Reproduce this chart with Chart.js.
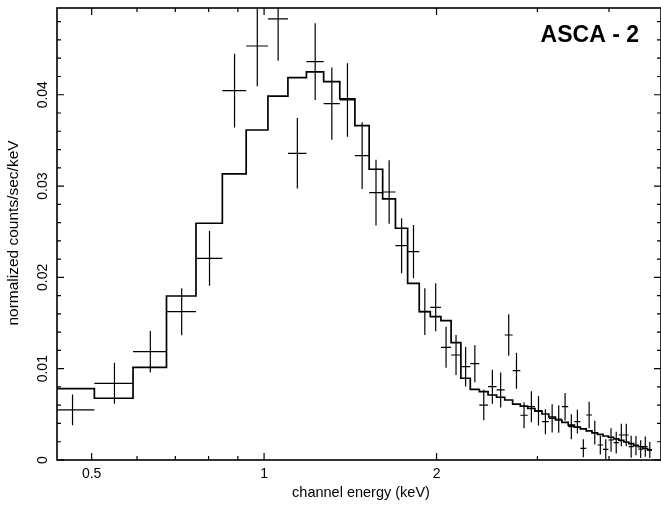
<!DOCTYPE html>
<html>
<head>
<meta charset="utf-8">
<script src="https://cdn.jsdelivr.net/npm/chart.js@4.4.0/dist/chart.umd.min.js"></script>
<style>
  html, body { margin: 0; padding: 0; background: #fff; }
</style>
</head>
<body>
<canvas id="spectrum" width="661" height="508"></canvas>
<script>
// bin centres in keV (every bin is 0.085 keV wide)
const energies = [
  0.463, 0.548, 0.633, 0.718, 0.803, 0.888, 0.973, 1.058, 1.143, 1.228,
  1.313, 1.398, 1.483, 1.568, 1.653, 1.738, 1.823, 1.908, 1.993, 2.078,
  2.163, 2.248, 2.333, 2.418, 2.503, 2.588, 2.673, 2.758, 2.843, 2.928,
  3.013, 3.098, 3.183, 3.268, 3.353, 3.438, 3.523, 3.608, 3.693, 3.778,
  3.863, 3.948, 4.033, 4.118, 4.203, 4.288, 4.373, 4.458, 4.543, 4.628, 4.713
];
const binHalfWidth = 0.0425;

// measured spectrum (counts/sec/keV) and 1-sigma errors
const counts = [
  0.00548, 0.0084, 0.01186, 0.01624, 0.02209, 0.04045, 0.04534, 0.0483, 0.03359, 0.04363,
  0.03903, 0.03943, 0.03333, 0.02928, 0.02935, 0.02347, 0.02282, 0.01625, 0.01672, 0.01234,
  0.0115, 0.01022, 0.01055, 0.00602, 0.00803, 0.00767, 0.01369, 0.00978, 0.0049, 0.00584,
  0.0054, 0.0042, 0.00456, 0.00449, 0.00584, 0.00365, 0.0042, 0.00128, 0.00493, 0.003,
  0.00164, 0.00117, 0.00219, 0.0019, 0.00274, 0.00274, 0.00146, 0.00157, 0.0012, 0.00146, 0.0011
];
const countErrors = [
  0.00168, 0.00225, 0.00228, 0.00257, 0.00301, 0.00405, 0.0044, 0.00457, 0.00387, 0.0042,
  0.00396, 0.00402, 0.00365, 0.00361, 0.00347, 0.00301, 0.00292, 0.00257, 0.00263, 0.00225,
  0.00219, 0.00216, 0.00203, 0.00168, 0.00186, 0.00192, 0.00227, 0.00197, 0.00142, 0.0017,
  0.00161, 0.00137, 0.00155, 0.0015, 0.00151, 0.00137, 0.00131, 0.00099, 0.00146, 0.00131,
  0.00104, 0.0011, 0.00128, 0.00119, 0.00124, 0.00124, 0.0012, 0.00106, 0.00097, 0.0011, 0.00088
];

// folded model, one level per bin
const model = [
  0.00781, 0.00676, 0.01015, 0.01796, 0.02593, 0.03133, 0.03614, 0.03984, 0.04187, 0.0425,
  0.04143, 0.03954, 0.03662, 0.03184, 0.02859, 0.02538, 0.01935, 0.01624, 0.0157, 0.01526,
  0.01285, 0.00895, 0.00774, 0.00748, 0.00712, 0.00687, 0.00657, 0.00613, 0.00591, 0.00564,
  0.00535, 0.00504, 0.00471, 0.00438, 0.00411, 0.00383, 0.00361, 0.0034, 0.00318, 0.00298,
  0.0028, 0.00263, 0.00249, 0.00232, 0.00216, 0.00197, 0.00179, 0.00161, 0.00145, 0.00126, 0.0011
];

const xMajorTicks = [0.5, 1, 2];
const xMinorTicks = [0.6, 0.7, 0.8, 0.9, 3, 4];
const yMajorTicks = [0, 0.01, 0.02, 0.03, 0.04];
const yMinorTicks = [0.002, 0.004, 0.006, 0.008, 0.012, 0.014, 0.016, 0.018,
  0.022, 0.024, 0.026, 0.028, 0.032, 0.034, 0.036, 0.038, 0.042, 0.044, 0.046, 0.048];

const xTitle = "channel energy (keV)";
const yTitle = "normalized counts/sec/keV";
const plotLabel = "ASCA - 2";

// crosses: horizontal bar over the bin, vertical bar for the error, gaps between
const crossPoints = [];
energies.forEach((e, i) => {
  crossPoints.push({ x: e - binHalfWidth, y: counts[i] });
  crossPoints.push({ x: e + binHalfWidth, y: counts[i] });
  crossPoints.push({ x: e, y: null });
  crossPoints.push({ x: e, y: counts[i] - countErrors[i] });
  crossPoints.push({ x: e, y: counts[i] + countErrors[i] });
  crossPoints.push({ x: e, y: null });
});

// histogram of the model: value holds from the bin's low edge to the next edge
const modelPoints = energies.map((e, i) => ({ x: e - binHalfWidth, y: model[i] }));
modelPoints.push({ x: energies[energies.length - 1] + binHalfWidth, y: model[model.length - 1] });

const font = "'Liberation Sans', Arial, sans-serif";

const framePlugin = {
  id: "frame",
  afterDatasetsDraw(chart) {
    const { ctx, chartArea: a, scales: { x, y } } = chart;
    ctx.save();
    ctx.strokeStyle = "#000";
    ctx.lineWidth = 1.6;
    ctx.strokeRect(a.left, a.top, a.right - a.left, a.bottom - a.top);

    ctx.lineWidth = 1.2;
    ctx.beginPath();
    const xTick = (v, len) => {
      const px = x.getPixelForValue(v);
      ctx.moveTo(px, a.bottom); ctx.lineTo(px, a.bottom - len);
      ctx.moveTo(px, a.top); ctx.lineTo(px, a.top + len);
    };
    const yTick = (v, len) => {
      const py = y.getPixelForValue(v);
      ctx.moveTo(a.left, py); ctx.lineTo(a.left + len, py);
      ctx.moveTo(a.right, py); ctx.lineTo(a.right - len, py);
    };
    xMajorTicks.forEach(v => xTick(v, 7));
    xMinorTicks.forEach(v => xTick(v, 4));
    yMajorTicks.forEach(v => yTick(v, 7));
    yMinorTicks.forEach(v => yTick(v, 4));
    ctx.stroke();

    ctx.fillStyle = "#000";
    ctx.font = "14px " + font;
    ctx.textAlign = "center";
    ctx.textBaseline = "middle";
    xMajorTicks.forEach(v => {
      ctx.fillText(String(v), x.getPixelForValue(v), a.bottom + 14);
    });
    yMajorTicks.forEach(v => {
      ctx.save();
      ctx.translate(43, y.getPixelForValue(v));
      ctx.rotate(-Math.PI / 2);
      ctx.fillText(String(v), 0, 0);
      ctx.restore();
    });

    ctx.font = "14.5px " + font;
    ctx.fillText(xTitle, 361, 493);
    ctx.save();
    ctx.translate(14, 233);
    ctx.rotate(-Math.PI / 2);
    ctx.font = "15.5px " + font;
    ctx.fillText(yTitle, 0, 0);
    ctx.restore();

    ctx.font = "bold 23px " + font;
    ctx.textAlign = "right";
    ctx.textBaseline = "alphabetic";
    ctx.fillText(plotLabel, 639, 42);
    ctx.restore();
  }
};

new Chart(document.getElementById("spectrum"), {
  type: "line",
  data: {
    datasets: [
      {
        data: modelPoints,
        stepped: true,
        borderColor: "#000",
        borderWidth: 1.7,
        pointRadius: 0,
        fill: false
      },
      {
        data: crossPoints,
        borderColor: "#000",
        borderWidth: 1.2,
        pointRadius: 0,
        spanGaps: false,
        fill: false
      }
    ]
  },
  options: {
    responsive: false,
    animation: false,
    layout: { padding: { top: 8, right: 0, left: 0, bottom: 0 } },
    plugins: { legend: { display: false }, tooltip: { enabled: false } },
    scales: {
      x: {
        type: "logarithmic",
        min: 0.435,
        max: 4.93,
        ticks: { display: false },
        grid: { display: false },
        border: { display: false },
        afterFit: s => { s.height = 48; }
      },
      y: {
        type: "linear",
        min: 0,
        max: 0.0495,
        ticks: { display: false },
        grid: { display: false },
        border: { display: false },
        afterFit: s => { s.width = 57; }
      }
    }
  },
  plugins: [framePlugin]
});
</script>
</body>
</html>
